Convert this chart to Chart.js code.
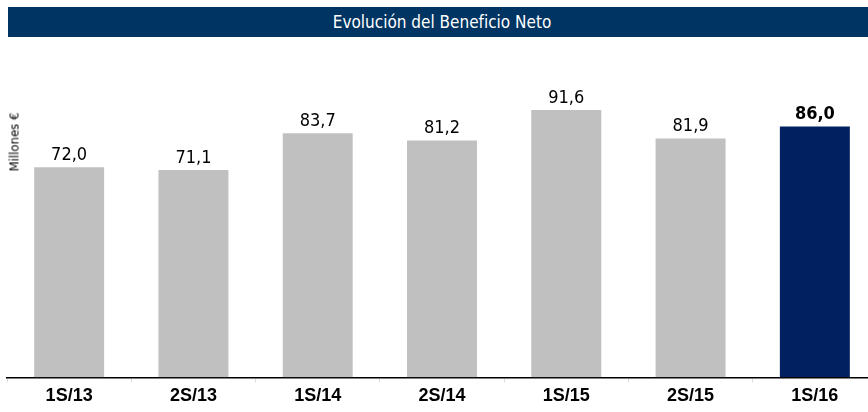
<!DOCTYPE html>
<html lang="es">
<head>
  <meta charset="utf-8">
  <title>Evolución del Beneficio Neto</title>
  <script src="https://cdn.jsdelivr.net/npm/chart.js@4"></script>
  <style>
    html, body { margin: 0; padding: 0; background: #fff; overflow: hidden; }
    .header {
      position: absolute; left: 8px; top: 7px; width: 860px; height: 30px;
      background: #003462; color: #fff; text-align: center;
      font: 17px "DejaVu Sans Condensed", "DejaVu Sans", sans-serif; line-height: 30px;
      padding-left: 8px; box-sizing: border-box;
    }
    .ylabel {
      position: absolute; left: 14px; top: 142px; white-space: nowrap;
      font: 13px "DejaVu Sans Condensed", "DejaVu Sans", sans-serif; color: #000;
      transform: translate(-50%, -50%) rotate(-90deg);
    }
    .wrapper { position: absolute; left: 0; top: 0; width: 884px; height: 412px; }
  </style>
</head>
<body>
  <div class="wrapper"><canvas id="chart-0"></canvas></div>
  <div class="header">Evolución del Beneficio Neto</div>
  <div class="ylabel">Millones €</div>

  <script>
    let categories = ['1S/13', '2S/13', '1S/14', '2S/14', '1S/15', '2S/15', '1S/16'];
    let beneficio = [72.0, 71.1, 83.7, 81.2, 91.6, 81.9, 86.0];
    let highlight = [false, false, false, false, false, false, true];

    let barColors = highlight.map(h => h ? '#002060' : '#c0c0c0');

    // values written above each bar, Spanish decimal comma
    let valueLabels = {
      id: 'valueLabels',
      afterDatasetsDraw(chart) {
        let ctx = chart.ctx;
        let meta = chart.getDatasetMeta(0);
        ctx.save();
        ctx.textAlign = 'center';
        ctx.textBaseline = 'alphabetic';
        ctx.fillStyle = '#000';
        meta.data.forEach(function(bar, i) {
          let bold = highlight[i] ? 'bold ' : '';
          ctx.font = bold + '18px "DejaVu Sans Condensed", "DejaVu Sans", sans-serif';
          let txt = beneficio[i].toFixed(1).replace('.', ',');
          ctx.fillText(txt, bar.x, bar.y - 7);
        });
        ctx.restore();
      }
    };

    let chart = new Chart('chart-0', {
      type: 'bar',
      data: {
        labels: categories,
        datasets: [{
          data: beneficio,
          backgroundColor: barColors,
          borderWidth: 0,
          categoryPercentage: 1,
          barPercentage: 0.563
        }]
      },
      options: {
        responsive: true,
        maintainAspectRatio: false,
        animation: false,
        layout: {
          padding: { left: 7, right: 7, top: 85.6, bottom: 2.7 }
        },
        plugins: {
          legend: { display: false },
          tooltip: { enabled: false }
        },
        scales: {
          x: {
            offset: true,
            grid: {
              offset: true,
              drawOnChartArea: false,
              drawTicks: true,
              tickLength: 5,
              color: '#d9d9d9'
            },
            border: { display: true, color: '#000', width: 1.5 },
            ticks: {
              padding: 2.7,
              color: '#000',
              font: { family: '"Liberation Sans", Arial, sans-serif', size: 18, weight: 'bold' }
            }
          },
          y: {
            display: false,
            min: 0,
            max: 100
          }
        }
      },
      plugins: [valueLabels]
    });
  </script>
</body>
</html>
